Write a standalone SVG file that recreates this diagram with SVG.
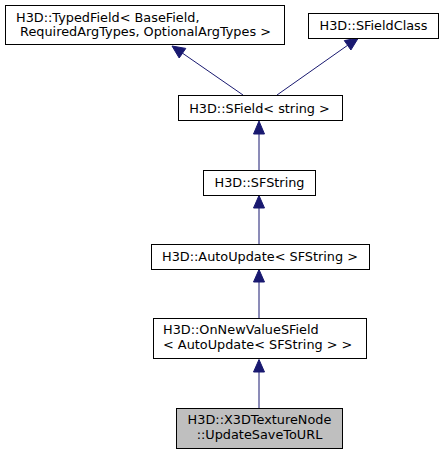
<svg xmlns="http://www.w3.org/2000/svg" width="445" height="455" viewBox="0 0 445 455">
<style>
.box{fill:#ffffff;stroke:#000000;stroke-width:1}
.cur{fill:#bfbfbf;stroke:#000000;stroke-width:1}
text{font-family:"DejaVu Sans",sans-serif;font-size:12.85px;fill:#000000}
.m{text-anchor:middle}
.edge{stroke:#191970;stroke-width:1;fill:none}
.ah{fill:#191970;stroke:#191970;stroke-width:1}
</style>
<rect width="445" height="455" fill="#ffffff"/>
<g id="connectors">
<path class="edge" d="M243,95 L182.5,53.2"/>
<polygon class="ah" points="172,46 185.8,48.4 179.2,58"/>
<path class="edge" d="M277,95 L347.6,45.3"/>
<polygon class="ah" points="358.3,38 350.9,50 344.3,40.6"/>
<path class="edge" d="M259,170 L259,134"/>
<polygon class="ah" points="259,121 264.5,134 253.5,134"/>
<path class="edge" d="M259,244 L259,208"/>
<polygon class="ah" points="259,195.5 264.5,208 253.5,208"/>
<path class="edge" d="M259,318 L259,282"/>
<polygon class="ah" points="259,269.5 264.5,282 253.5,282"/>
<path class="edge" d="M259,408 L259,372"/>
<polygon class="ah" points="259,359.5 264.5,372 253.5,372"/>
</g>
<g id="node_typedfield">
<rect class="box" x="5.5" y="5.5" width="279" height="39"/>
<text x="16" y="21.5">H3D::TypedField&lt; BaseField,</text>
<text x="16" y="36" xml:space="preserve"> RequiredArgTypes, OptionalArgTypes &gt;</text>
</g>
<g id="node_sfieldclass">
<rect class="box" x="308.5" y="13.5" width="130" height="25"/>
<text class="m" x="373.5" y="30">H3D::SFieldClass</text>
</g>
<g id="node_sfield_string">
<rect class="box" x="178.5" y="95.5" width="164" height="25"/>
<text class="m" x="259.5" y="112.5">H3D::SField&lt; string &gt;</text>
</g>
<g id="node_sfstring">
<rect class="box" x="203.5" y="170.5" width="112" height="25"/>
<text class="m" x="259.5" y="187">H3D::SFString</text>
</g>
<g id="node_autoupdate">
<rect class="box" x="151.5" y="244.5" width="218" height="25"/>
<text class="m" x="260" y="261">H3D::AutoUpdate&lt; SFString &gt;</text>
</g>
<g id="node_onnewvalue">
<rect class="box" x="153.5" y="318.5" width="213" height="40"/>
<text x="163" y="334">H3D::OnNewValueSField</text>
<text x="163" y="349">&lt; AutoUpdate&lt; SFString &gt; &gt;</text>
</g>
<g id="node_updatesavetourl">
<rect class="cur" x="176.5" y="408.5" width="166" height="40"/>
<text class="m" x="259.5" y="424">H3D::X3DTextureNode</text>
<text class="m" x="259.5" y="439">::UpdateSaveToURL</text>
</g>
</svg>
